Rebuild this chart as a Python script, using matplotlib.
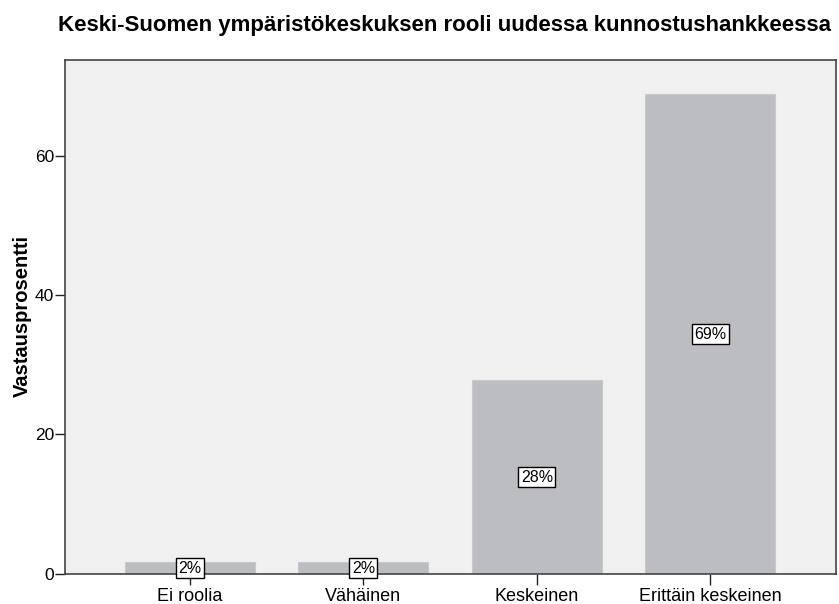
import matplotlib
matplotlib.use("Agg")
import matplotlib.pyplot as plt

categories = ["Ei roolia", "Vähäinen", "Keskeinen", "Erittäin keskeinen"]
values = [1.7, 1.7, 27.8, 68.8]
labels = ["2%", "2%", "28%", "69%"]
yticks = [0, 20, 40, 60]

plt.rcParams['font.family'] = ['Liberation Sans', 'DejaVu Sans']

fig = plt.figure(figsize=(8.39, 6.04), dpi=100)
ax = fig.add_axes([0.0775, 0.0497, 0.919, 0.851])
ax.set_facecolor('#f0f0f0')

x = list(range(len(categories)))
ax.bar(x, values, width=0.75, color='#bcbdc0', edgecolor='#c8c9cc', linewidth=0.8, zorder=2)
for xi, v, lab in zip(x, values, labels):
    ax.text(xi, v / 2, lab, ha='center', va='center', fontsize=11.5, zorder=3,
            bbox=dict(boxstyle='square,pad=0.15', facecolor='white', edgecolor='black', linewidth=1.0))

ax.set_xlim(-0.72, 3.725)
ax.set_ylim(0, 73.7)
ax.set_xticks(x)
ax.set_xticklabels(categories, fontsize=13)
ax.set_yticks(yticks)
ax.set_yticklabels([str(t) for t in yticks], fontsize=12.5)
ax.tick_params(axis='x', length=8, width=1, color='#222222', pad=2)
ax.tick_params(axis='y', length=7, width=1, color='#222222', pad=1)
for s in ax.spines.values():
    s.set_color('#444444')
    s.set_linewidth(1.2)

ax.set_ylabel("Vastausprosentti", fontsize=14.5, fontweight='bold')
ax.yaxis.set_label_coords(-22 / 771, 0.5)  # placeholder replaced below
fig.canvas.draw()
# place ylabel centre at ~22 px from figure left
ax_w_px = ax.get_position().width * fig.get_figwidth() * fig.dpi
ax.yaxis.set_label_coords(-(65 - 22) / ax_w_px, (574 - 316) / (574 - 60))
ax.yaxis.label.set_va('center')

fig.text(0.53, 0.957, "Keski-Suomen ympäristökeskuksen rooli uudessa kunnostushankkeessa",
         ha='center', va='center', fontsize=16, fontweight='bold')

fig.savefig("out.png", dpi=100)
